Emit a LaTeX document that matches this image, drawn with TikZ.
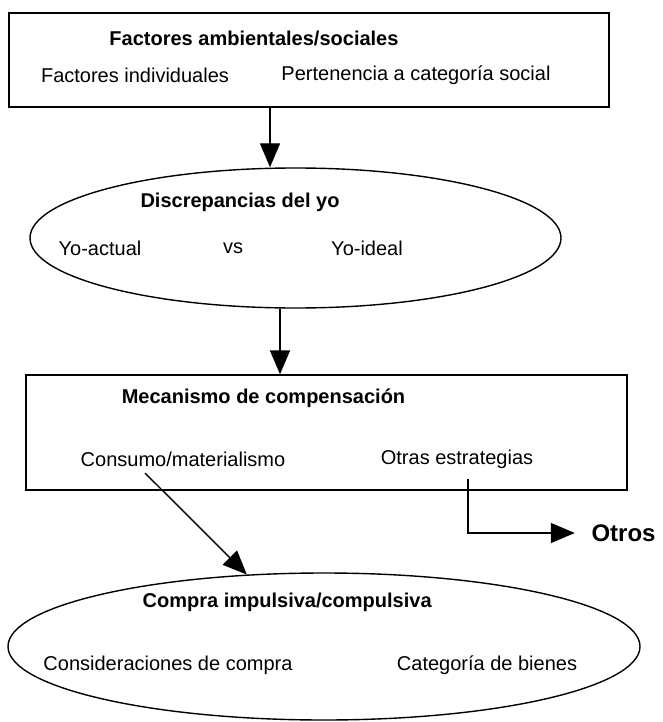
\documentclass[tikz,border=0pt]{standalone}
\usepackage{fontspec}
\setmainfont{Liberation Sans}
\usetikzlibrary{arrows.meta,shapes.geometric}

\begin{document}
\begin{tikzpicture}[x=1pt, y=-1pt, line width=1.4pt,
  every node/.style={inner sep=0pt, font=\fontsize{20}{24}\selectfont},
  titulo/.style={font=\bfseries\fontsize{20}{24}\selectfont},
  caja/.style={draw, rectangle},
  ovalo/.style={draw, ellipse},
  flecha/.style={-{Triangle[length=24pt,width=20pt]}}]
\useasboundingbox (0,0) rectangle (662,722);
\node[caja, minimum width=600pt, minimum height=94pt] (factores) at (309,60) {};
\node[titulo] (tfact) at (254,38) {Factores ambientales/sociales};
\node (indiv) at (135,75) {Factores individuales};
\node (perten) at (416,75) {Pertenencia a categoría social};

\node[ovalo, minimum width=531pt, minimum height=140pt] (discrep) at (295.5,238) {};
\node[titulo] (tdisc) at (240,202) {Discrepancias del yo};
\node (actual) at (100,248) {Yo-actual};
\node (vs) at (233,248) {vs};
\node (ideal) at (367,248) {Yo-ideal};

\node[caja, minimum width=601pt, minimum height=115pt] (mecan) at (326.5,432.5) {};
\node[titulo] (tmec) at (263.5,398) {Mecanismo de compensación};
\node (consumo) at (183,459) {Consumo/materialismo};
\node (otras) at (457,459) {Otras estrategias};

\node[font=\bfseries\fontsize{24}{28}\selectfont] (otros) at (623.5,533) {Otros};

\node[ovalo, minimum width=632pt, minimum height=147pt] (compra) at (324,646.5) {};
\node[titulo, anchor=west] (tcomp) at (142,602) {Compra impulsiva/compulsiva};
\node (consid) at (168,665) {Consideraciones de compra};
\node (bienes) at (487,665) {Categoría de bienes};

\draw[flecha] ([xshift=-39pt]factores.south) coordinate (p1) -- (p1 |- discrep.north);
\draw[flecha] ([xshift=-15.5pt]discrep.south) coordinate (p2) -- (p2 |- mecan.north);
\draw[flecha] ([xshift=-38pt,yshift=-6pt]consumo.south) -- (compra.137);
\draw[flecha] ([xshift=11pt,yshift=-10pt]otras.south) |- ([xshift=-16pt]otros.west);
\end{tikzpicture}
\end{document}
